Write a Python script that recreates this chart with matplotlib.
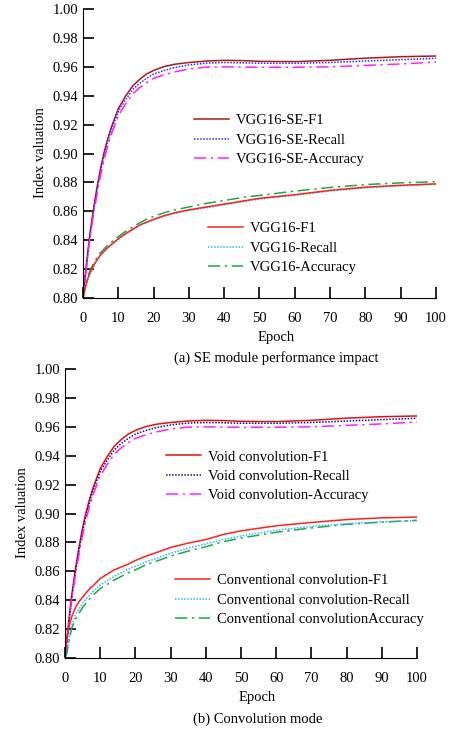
import numpy as np
import matplotlib
matplotlib.use("Agg")
import matplotlib.pyplot as plt

plt.rcParams['font.family'] = ['Liberation Serif', 'DejaVu Serif']
FS = 10.5

# -----------------------------
# DATA
# -----------------------------

epochs = [0, 0.5, 1, 1.5, 2, 3, 4, 5, 6, 7, 8, 10, 12, 14, 16, 18, 20,
          23, 26, 30, 35, 40, 45, 50, 60, 70, 80, 90, 100]

# (a) SE module
se_f1 = [0.800, 0.8125, 0.824, 0.835, 0.845, 0.862, 0.877, 0.890, 0.901, 0.910, 0.918, 0.931,
         0.9395, 0.9465, 0.9512, 0.955, 0.9575, 0.9602, 0.9618, 0.963, 0.964, 0.9645, 0.9643,
         0.9638, 0.9636, 0.9645, 0.966, 0.967, 0.9675]
se_recall = [0.800, 0.811, 0.822, 0.833, 0.843, 0.860, 0.875, 0.888, 0.899, 0.908, 0.916, 0.929,
             0.937, 0.944, 0.9485, 0.952, 0.955, 0.9575, 0.9595, 0.9613, 0.9626, 0.963, 0.9628,
             0.9625, 0.9624, 0.963, 0.964, 0.965, 0.9659]
se_acc = [0.800, 0.810, 0.821, 0.832, 0.842, 0.858, 0.872, 0.885, 0.896, 0.905, 0.913, 0.926,
          0.934, 0.941, 0.9455, 0.949, 0.952, 0.9545, 0.9565, 0.9585, 0.9598, 0.960, 0.9598,
          0.9597, 0.9597, 0.960, 0.961, 0.962, 0.9633]
vgg_f1 = [0.800, 0.8055, 0.8105, 0.8145, 0.8175, 0.8225, 0.8265, 0.830, 0.8325, 0.835, 0.837, 0.841,
          0.8445, 0.8475, 0.8505, 0.8525, 0.8545, 0.857, 0.859, 0.861, 0.863, 0.865, 0.867,
          0.869, 0.8715, 0.8745, 0.8767, 0.878, 0.879]
vgg_recall = [0.800, 0.805, 0.810, 0.814, 0.817, 0.822, 0.826, 0.8295, 0.832, 0.8345, 0.8365, 0.8405,
              0.844, 0.847, 0.850, 0.852, 0.854, 0.8565, 0.8585, 0.8605, 0.8625, 0.8645, 0.8665,
              0.8685, 0.871, 0.874, 0.8762, 0.8776, 0.8786]
vgg_acc = [0.800, 0.806, 0.811, 0.8155, 0.819, 0.824, 0.828, 0.8315, 0.834, 0.8365, 0.8385, 0.8425,
           0.846, 0.849, 0.852, 0.8545, 0.8565, 0.859, 0.861, 0.863, 0.8655, 0.8675, 0.8695,
           0.871, 0.874, 0.8765, 0.8785, 0.8797, 0.8805]

# (b) Convolution mode
void_f1 = [0.800, 0.8125, 0.824, 0.835, 0.845, 0.862, 0.877, 0.890, 0.901, 0.910, 0.918, 0.931,
           0.9395, 0.9465, 0.9512, 0.955, 0.9575, 0.9602, 0.9618, 0.963, 0.964, 0.9645, 0.9643,
           0.9638, 0.9636, 0.9645, 0.966, 0.967, 0.9675]
void_recall = [0.800, 0.811, 0.822, 0.833, 0.843, 0.860, 0.875, 0.888, 0.899, 0.908, 0.916, 0.929,
               0.937, 0.944, 0.9485, 0.952, 0.955, 0.9575, 0.9595, 0.9613, 0.9626, 0.963, 0.9628,
               0.9625, 0.9624, 0.963, 0.964, 0.965, 0.9659]
void_acc = [0.800, 0.810, 0.821, 0.832, 0.842, 0.858, 0.872, 0.885, 0.896, 0.905, 0.913, 0.926,
            0.934, 0.941, 0.9455, 0.949, 0.952, 0.9545, 0.9565, 0.9585, 0.9598, 0.960, 0.9598,
            0.9597, 0.9597, 0.960, 0.961, 0.962, 0.9633]
conv_f1 = [0.800, 0.812, 0.820, 0.825, 0.829, 0.835, 0.839, 0.842, 0.845, 0.848, 0.850, 0.855,
           0.858, 0.861, 0.863, 0.865, 0.8675, 0.8705, 0.873, 0.8765, 0.8795, 0.882, 0.8855,
           0.888, 0.8915, 0.8938, 0.8958, 0.897, 0.8975]
conv_recall = [0.800, 0.804, 0.811, 0.818, 0.823, 0.830, 0.834, 0.838, 0.841, 0.8435, 0.846, 0.8505,
               0.8535, 0.8565, 0.859, 0.8615, 0.8635, 0.8665, 0.869, 0.8725, 0.876, 0.879, 0.882,
               0.8845, 0.8885, 0.891, 0.893, 0.8943, 0.895]
conv_acc = [0.800, 0.803, 0.810, 0.816, 0.821, 0.827, 0.831, 0.835, 0.838, 0.841, 0.8435, 0.848,
            0.851, 0.854, 0.8565, 0.859, 0.861, 0.8645, 0.867, 0.8705, 0.874, 0.877, 0.8805,
            0.883, 0.887, 0.890, 0.8925, 0.894, 0.8953]

dot = (0, (1, 1))
dashdot = (0, (8, 3, 1.5, 3))


def style_axes(ax):
    ax.set_xlim(0, 100)
    ax.set_ylim(0.80, 1.00)
    ax.set_xticks(np.arange(0, 101, 10))
    ax.set_yticks(np.arange(0.80, 1.001, 0.02))
    ax.yaxis.set_major_formatter(matplotlib.ticker.FormatStrFormatter('%.2f'))
    ax.spines['top'].set_visible(False)
    ax.spines['right'].set_visible(False)
    ax.tick_params(direction='in', length=8, width=1.2, color='black', labelsize=FS)
    ax.tick_params(axis='x', pad=10)
    ax.set_xlabel("Epoch", fontsize=FS)
    ax.set_ylabel("Index valuation", fontsize=FS)
    ax.xaxis.set_label_coords(0.547, -0.114)
    ax.yaxis.set_label_coords(-0.103, 0.503)


fig = plt.figure(figsize=(4.5, 7.29), dpi=100)
ax1 = fig.add_axes([0.1844, 0.5912, 0.7844, 0.3964])
ax2 = fig.add_axes([0.1444, 0.0974, 0.7822, 0.3964])

leg_kw = dict(frameon=False, fontsize=FS, handlelength=2.4, handletextpad=0.48,
              labelspacing=0.42, borderpad=0, loc='upper left')

# ---- (a) ----
h1 = ax1.plot(epochs, se_f1, color='#b01818', lw=1.1, label='VGG16-SE-F1')
h2 = ax1.plot(epochs, se_recall, color='#2a2aff', lw=1.1, ls=dot, label='VGG16-SE-Recall')
h3 = ax1.plot(epochs, se_acc, color='#ff20ff', lw=1.1, ls=dashdot, label='VGG16-SE-Accuracy')
h4 = ax1.plot(epochs, vgg_acc, color='#1aa84a', lw=1.1, ls=dashdot, label='VGG16-Accuracy')
h5 = ax1.plot(epochs, vgg_recall, color='#30b8f0', lw=1.1, ls=dot, label='VGG16-Recall')
h6 = ax1.plot(epochs, vgg_f1, color='#ff2020', lw=1.1, label='VGG16-F1')
style_axes(ax1)
lg = ax1.legend(handles=[h1[0], h2[0], h3[0]], bbox_to_anchor=(187 / 450, 1 - 107 / 729),
                bbox_transform=fig.transFigure, **leg_kw)
ax1.add_artist(lg)
ax1.legend(handles=[h6[0], h5[0], h4[0]], bbox_to_anchor=(201 / 450, 1 - 215 / 729),
           bbox_transform=fig.transFigure, **leg_kw)
fig.text(276 / 450, 1 - 358 / 729, "(a) SE module performance impact",
         ha='center', va='center', fontsize=FS)

# ---- (b) ----
g1 = ax2.plot(epochs, void_f1, color='#e01010', lw=1.1, label='Void convolution-F1')
g2 = ax2.plot(epochs, void_recall, color='#101080', lw=1.1, ls=dot, label='Void convolution-Recall')
g3 = ax2.plot(epochs, void_acc, color='#ff20ff', lw=1.1, ls=dashdot, label='Void convolution-Accuracy')
g4 = ax2.plot(epochs, conv_acc, color='#1aa84a', lw=1.1, ls=dashdot, label='Conventional convolutionAccuracy')
g5 = ax2.plot(epochs, conv_recall, color='#30b8f0', lw=1.1, ls=dot, label='Conventional convolution-Recall')
g6 = ax2.plot(epochs, conv_f1, color='#ff2020', lw=1.1, label='Conventional convolution-F1')
style_axes(ax2)
lg2 = ax2.legend(handles=[g1[0], g2[0], g3[0]], bbox_to_anchor=(159 / 450, 1 - 443 / 729),
                 bbox_transform=fig.transFigure, **leg_kw)
ax2.add_artist(lg2)
ax2.legend(handles=[g6[0], g5[0], g4[0]], bbox_to_anchor=(168 / 450, 1 - 567 / 729),
           bbox_transform=fig.transFigure, **leg_kw)
fig.text(258 / 450, 1 - 719 / 729, "(b) Convolution mode",
         ha='center', va='center', fontsize=FS)

fig.savefig("out.png", dpi=100)
